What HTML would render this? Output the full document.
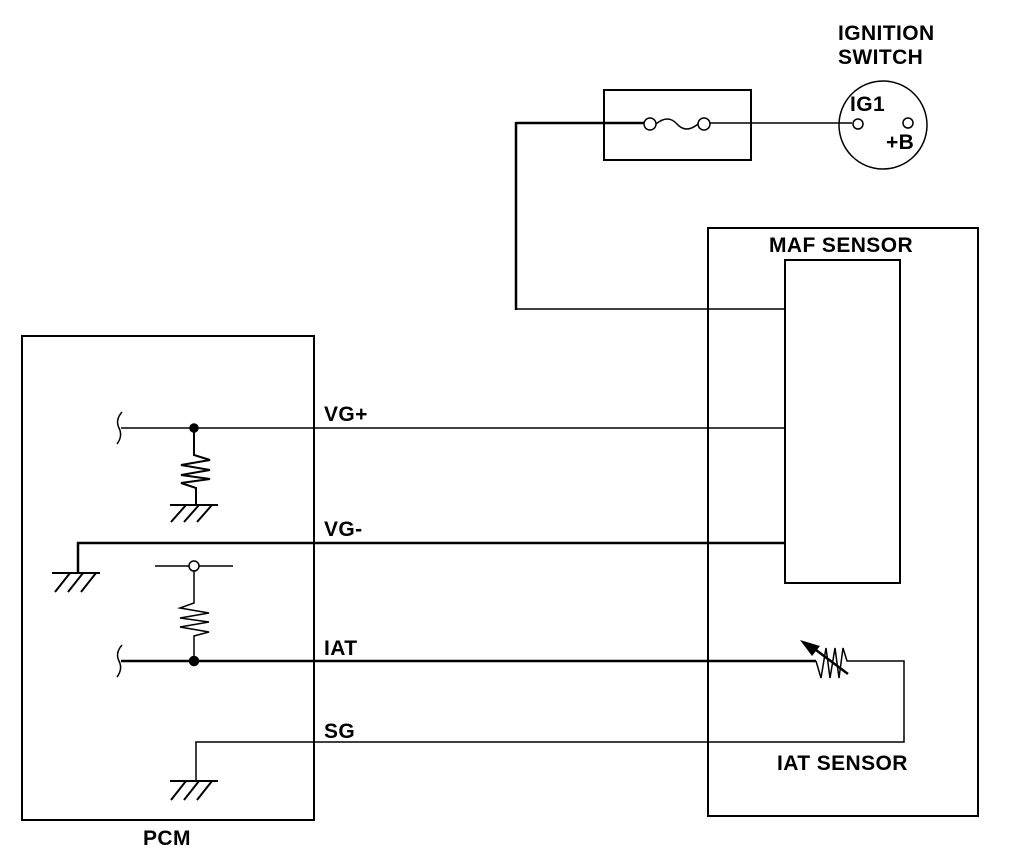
<!DOCTYPE html>
<html><head><style>
html,body{margin:0;padding:0;background:#fff;}
svg{display:block;}
text{font-family:"Liberation Sans",Arial,sans-serif;font-weight:bold;font-size:21px;letter-spacing:0.4px;fill:#000;}
</style></head><body>
<svg width="1024" height="854" viewBox="0 0 1024 854" xmlns="http://www.w3.org/2000/svg">
<g fill="none" stroke="#000" stroke-width="1.5">
<rect x="604" y="90" width="147" height="70" stroke-width="2"/>
<line x1="516" y1="123" x2="644" y2="123" stroke-width="2.5"/>
<line x1="516" y1="122" x2="516" y2="310" stroke-width="2.5"/>
<line x1="516" y1="309" x2="785" y2="309"/>
<circle cx="650" cy="124" r="6"/>
<circle cx="704" cy="124" r="6"/>
<path d="M656 124 Q668 114 677 124 Q686 134 698 124"/>
<line x1="710" y1="123" x2="852" y2="123"/>
<circle cx="883" cy="125" r="44"/>
<circle cx="858" cy="124" r="5"/>
<circle cx="908" cy="123" r="5"/>
<rect x="708" y="228" width="270" height="588" stroke-width="2"/>
<rect x="785" y="260" width="115" height="323" stroke-width="2"/>
<rect x="22" y="336" width="292" height="484" stroke-width="2"/>
<path d="M122 412 Q115 420 119 428 Q123 436 117 444"/>
<line x1="121" y1="428" x2="785" y2="428"/>
<circle cx="194" cy="428" r="4" fill="#000"/>
<path d="M194 428 V455 L210 460 L181 465 L210 470 L181 475 L210 479 L181 483 L196 488 V505" stroke-width="2"/>
<line x1="170" y1="505" x2="218" y2="505" stroke-width="2"/>
<path d="M186 505 L171 522 M199 505 L184 522 M212 505 L197 522" stroke-width="2"/>
<path d="M785 543 H78 V573" stroke-width="2.5"/>
<line x1="52" y1="573" x2="100" y2="573" stroke-width="2"/>
<path d="M70 573 L55 592 M83 573 L68 592 M96 573 L81 592" stroke-width="2"/>
<line x1="155" y1="566" x2="189" y2="566"/>
<line x1="199" y1="566" x2="233" y2="566"/>
<circle cx="194" cy="566" r="5"/>
<path d="M194 571 V603 L180 608 L209 613 L180 618 L209 622 L180 627 L209 632 L194 636 V661"/>
<path d="M122 645 Q115 653 119 661 Q123 669 117 677"/>
<line x1="121" y1="661" x2="816" y2="661" stroke-width="2.5"/>
<circle cx="194" cy="661" r="4.5" fill="#000"/>
<path d="M816 661 L821 678 L826 648 L830 678 L835 648 L839 678 L843 648 L847 661 H904 V742 H196 V781"/>
<line x1="812" y1="647" x2="848" y2="674" stroke-width="2.5"/>
<polygon points="800,640 820,646 812,656" fill="#000" stroke="none"/>
<line x1="170" y1="781" x2="218" y2="781" stroke-width="2"/>
<path d="M186 781 L171 800 M199 781 L184 800 M212 781 L197 800" stroke-width="2"/>
</g>
<text x="838" y="40">IGNITION</text>
<text x="838" y="64">SWITCH</text>
<text x="850" y="111">IG1</text>
<text x="886" y="149">+B</text>
<text x="769" y="252">MAF SENSOR</text>
<text x="324" y="421">VG+</text>
<text x="324" y="536">VG-</text>
<text x="324" y="655">IAT</text>
<text x="324" y="738">SG</text>
<text x="777" y="770">IAT SENSOR</text>
<text x="143" y="845">PCM</text>
</svg>
</body></html>
